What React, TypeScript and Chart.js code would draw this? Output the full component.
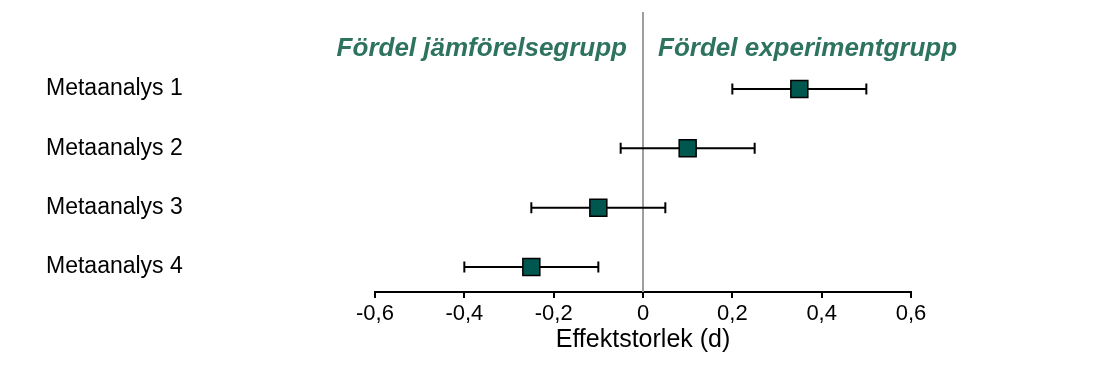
import React, { useEffect, useRef } from "react";
import { Chart, registerables } from "chart.js";

Chart.register(...registerables);

const categories = ["Metaanalys 1", "Metaanalys 2", "Metaanalys 3", "Metaanalys 4"];
const effects = [0.35, 0.1, -0.1, -0.25];
const lowerCI = [0.2, -0.05, -0.25, -0.4];
const upperCI = [0.5, 0.25, 0.05, -0.1];
const headerLeft = "Fördel jämförelsegrupp";
const headerRight = "Fördel experimentgrupp";
const axisTitle = "Effektstorlek (d)";

const FONT = "'Liberation Sans', Arial, Helvetica, sans-serif";
const GREEN = "#2E735F";
const SQUARE = "#00574F";

const forestPlugin = {
  id: "forest",
  beforeDatasetsDraw(chart: any) {
    const { ctx, chartArea, scales } = chart;
    const xs = scales.x;
    const ys = scales.y;
    const x0 = xs.getPixelForValue(0);
    ctx.save();
    // zero reference line
    ctx.strokeStyle = "#9E9E9E";
    ctx.lineWidth = 2;
    ctx.beginPath();
    ctx.moveTo(x0, chartArea.top - 1);
    ctx.lineTo(x0, chartArea.bottom);
    ctx.stroke();
    // error bars
    ctx.strokeStyle = "#000";
    ctx.lineWidth = 2;
    categories.forEach((_, i) => {
      const y = ys.getPixelForValue(i + 1);
      const xl = xs.getPixelForValue(lowerCI[i]);
      const xu = xs.getPixelForValue(upperCI[i]);
      ctx.beginPath();
      ctx.moveTo(xl, y);
      ctx.lineTo(xu, y);
      ctx.moveTo(xl, y - 5.5);
      ctx.lineTo(xl, y + 5.5);
      ctx.moveTo(xu, y - 5.5);
      ctx.lineTo(xu, y + 5.5);
      ctx.stroke();
    });
    // headers
    const yh = ys.getPixelForValue(0.33);
    ctx.fillStyle = GREEN;
    ctx.font = `italic bold 26px ${FONT}`;
    ctx.textBaseline = "middle";
    ctx.textAlign = "right";
    ctx.fillText(headerLeft, x0 - 16, yh);
    ctx.textAlign = "left";
    ctx.fillText(headerRight, x0 + 15, yh);
    ctx.restore();
  },
};

export default function App() {
  const ref = useRef<HTMLCanvasElement>(null);
  useEffect(() => {
    if (!ref.current) return;
    const chart = new Chart(ref.current, {
      type: "scatter",
      data: {
        datasets: [
          {
            data: effects.map((v, i) => ({ x: v, y: i + 1 })),
            pointStyle: "rect",
            pointRadius: 12,
            pointHoverRadius: 12,
            backgroundColor: SQUARE,
            borderColor: "#000",
            borderWidth: 1.5,
            clip: false as any,
          },
        ],
      },
      options: {
        responsive: false,
        animation: false,
        events: [],
        layout: { autoPadding: false, padding: { left: 38, top: 5, right: 181, bottom: 0 } },
        plugins: { legend: { display: false }, tooltip: { enabled: false } },
        scales: {
          x: {
            type: "linear",
            min: -0.6,
            max: 0.6,
            afterFit: (s: any) => {
              s.height = 66;
              s.paddingLeft = 0;
              s.paddingRight = 0;
            },
            ticks: {
              stepSize: 0.2,
              color: "#000",
              padding: 3,
              font: { family: FONT, size: 22 },
              callback: (v: any) => {
                const n = Number(v);
                if (Math.abs(n) < 1e-9) return "0";
                return n.toFixed(1).replace(".", ",");
              },
            },
            grid: {
              display: true,
              drawOnChartArea: false,
              drawTicks: true,
              tickLength: 6,
              color: "#000",
              lineWidth: 2,
            },
            border: { display: true, color: "#000", width: 2 },
            title: {
              display: true,
              text: axisTitle,
              color: "#000",
              font: { family: FONT, size: 25 },
              padding: { top: 0, bottom: 3 },
            },
          },
          y: {
            type: "linear",
            reverse: true,
            min: -0.281,
            max: 4.421,
            afterFit: (s: any) => {
              s.width = 329;
              s.paddingTop = 0;
              s.paddingBottom = 0;
            },
            afterBuildTicks: (s: any) => {
              s.ticks = categories.map((_, i) => ({ value: i + 1 }));
            },
            ticks: {
              autoSkip: false,
              crossAlign: "far",
              padding: 0,
              color: "#000",
              font: { family: FONT, size: 23, lineHeight: 0.3 },
              callback: (v: any) => categories[Number(v) - 1] ?? "",
            },
            grid: { display: false },
            border: { display: false },
          },
        },
      },
      plugins: [forestPlugin],
    });
    return () => chart.destroy();
  }, []);
  return (
    <div style={{ width: 1084, height: 350 }}>
      <canvas ref={ref} width={1084} height={350} />
    </div>
  );
}
